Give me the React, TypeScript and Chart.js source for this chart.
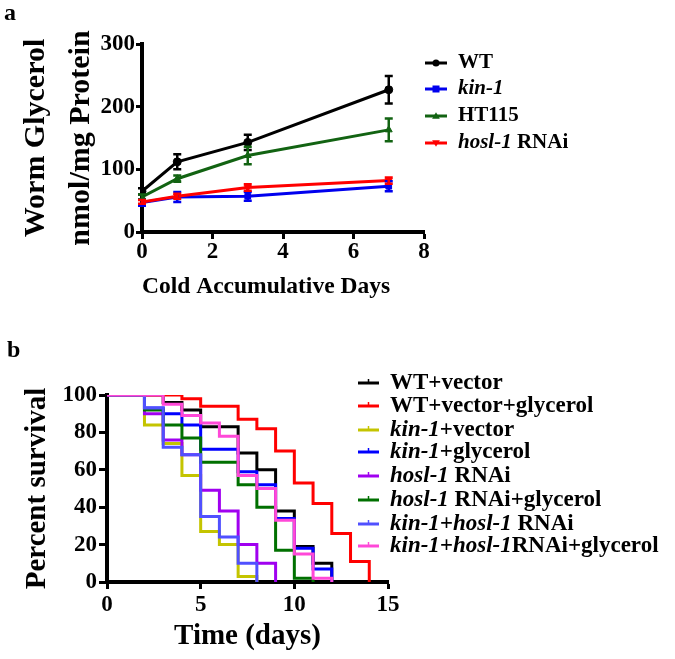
import React, { useEffect, useRef } from "react";
import { Chart, registerables } from "chart.js";
Chart.register(...registerables);

const SERIF = '"Liberation Serif", "Times New Roman", Times, serif';

// ---------- Panel a data ----------
const daysA = [0, 1, 3, 7];
const wtMean = [65, 112, 143, 227];
const wtErr = [5, 12, 12, 22];
const kinMean = [47, 56, 57, 73];
const kinErr = [5, 8, 7, 8];
const ht115Mean = [56, 85, 122, 163];
const ht115Err = [4, 5, 14, 18];
const hoslMean = [48, 57, 71, 82];
const hoslErr = [3, 4, 5, 5];
const xTicksA = [0, 2, 4, 6, 8];
const yTicksA = [0, 100, 200, 300];

type Part = { t: string; i?: boolean };

const seriesA = [
  { name: [{ t: "WT" }] as Part[], color: "#000000", style: "circle", rot: 0, mean: wtMean, err: wtErr },
  { name: [{ t: "kin-1", i: true }] as Part[], color: "#0000ee", style: "rect", rot: 0, mean: kinMean, err: kinErr },
  { name: [{ t: "HT115" }] as Part[], color: "#126312", style: "triangle", rot: 0, mean: ht115Mean, err: ht115Err },
  { name: [{ t: "hosl-1", i: true }, { t: " RNAi" }] as Part[], color: "#ff0000", style: "triangle", rot: 180, mean: hoslMean, err: hoslErr },
];

// ---------- Panel b data ----------
const wtVecT = [0, 3, 4, 5, 7, 8, 9, 10, 11, 12];
const wtVecS = [100, 96, 92, 83, 69, 60, 38, 19, 10, 0];
const wtGlyT = [0, 4, 5, 7, 8, 9, 10, 11, 12, 13, 14];
const wtGlyS = [100, 98, 94, 87, 82, 70, 53, 42, 26, 11, 0];
const kinVecT = [0, 2, 3, 4, 5, 6, 7, 8];
const kinVecS = [100, 84, 74, 57, 27, 20, 3, 0];
const kinGlyT = [0, 2, 3, 4, 5, 7, 8, 9, 10, 11, 12];
const kinGlyS = [100, 93, 90, 84, 71, 59, 52, 34, 18, 7, 0];
const hoslT = [0, 2, 3, 4, 5, 6, 7, 8, 9];
const hoslS = [100, 90, 76, 68, 49, 38, 20, 10, 0];
const hoslGlyT = [0, 2, 3, 4, 5, 7, 8, 9, 10, 11];
const hoslGlyS = [100, 92, 84, 77, 64, 52, 40, 17, 2, 0];
const kinHoslT = [0, 2, 3, 4, 5, 6, 7, 8];
const kinHoslS = [100, 93, 72, 68, 35, 24, 10, 0];
const kinHoslGlyT = [0, 3, 4, 5, 6, 7, 8, 9, 10, 11, 12];
const kinHoslGlyS = [100, 95, 89, 85, 78, 57, 50, 33, 15, 2, 0];
const xTicksB = [0, 5, 10, 15];
const yTicksB = [0, 20, 40, 60, 80, 100];

const seriesB = [
  { name: [{ t: "WT+vector" }] as Part[], color: "#000000", t: wtVecT, s: wtVecS },
  { name: [{ t: "WT+vector+glycerol" }] as Part[], color: "#ff0000", t: wtGlyT, s: wtGlyS },
  { name: [{ t: "kin-1", i: true }, { t: "+vector" }] as Part[], color: "#c4c400", t: kinVecT, s: kinVecS },
  { name: [{ t: "kin-1", i: true }, { t: "+glycerol" }] as Part[], color: "#0000ff", t: kinGlyT, s: kinGlyS },
  { name: [{ t: "hosl-1", i: true }, { t: " RNAi" }] as Part[], color: "#a000f0", t: hoslT, s: hoslS },
  { name: [{ t: "hosl-1", i: true }, { t: " RNAi+glycerol" }] as Part[], color: "#007000", t: hoslGlyT, s: hoslGlyS },
  { name: [{ t: "kin-1+hosl-1", i: true }, { t: " RNAi" }] as Part[], color: "#5050ff", t: kinHoslT, s: kinHoslS },
  { name: [{ t: "kin-1+hosl-1", i: true }, { t: "RNAi+glycerol" }] as Part[], color: "#ff48d8", t: kinHoslGlyT, s: kinHoslGlyS },
];

function drawParts(ctx: CanvasRenderingContext2D, parts: Part[], x: number, y: number, size: number) {
  let cx = x;
  ctx.fillStyle = "#000";
  ctx.textBaseline = "middle";
  ctx.textAlign = "left";
  for (const p of parts) {
    ctx.font = `${p.i ? "italic " : ""}bold ${size}px ${SERIF}`;
    ctx.fillText(p.t, cx, y);
    cx += ctx.measureText(p.t).width;
  }
}

function drawMarker(ctx: CanvasRenderingContext2D, style: string, rot: number, x: number, y: number, r: number, color: string) {
  ctx.fillStyle = color;
  ctx.beginPath();
  if (style === "circle") {
    ctx.arc(x, y, r, 0, Math.PI * 2);
  } else if (style === "rect") {
    ctx.rect(x - r, y - r, 2 * r, 2 * r);
  } else {
    const d = rot === 180 ? -1 : 1;
    ctx.moveTo(x, y - d * r * 1.1);
    ctx.lineTo(x - r * 1.1, y + d * r * 0.8);
    ctx.lineTo(x + r * 1.1, y + d * r * 0.8);
    ctx.closePath();
  }
  ctx.fill();
}

const axisCommon = (tickLen: number, size: number, pad: number) => ({
  grid: { drawOnChartArea: false, drawTicks: true, tickLength: tickLen, tickWidth: 3, tickColor: "#000", color: "#000" },
  border: { display: true, width: 4, color: "#000" },
  ticks: { color: "#000", padding: pad, font: { family: SERIF, size, weight: "bold" as const } },
});

function PanelA() {
  const ref = useRef<HTMLCanvasElement>(null);
  useEffect(() => {
    if (!ref.current) return;
    const errBars = {
      id: "errBarsA",
      afterDatasetsDraw(chart: any) {
        const { ctx } = chart;
        const x = chart.scales.x;
        const y = chart.scales.y;
        ctx.save();
        seriesA.forEach((s) => {
          ctx.strokeStyle = s.color;
          ctx.lineWidth = 2.5;
          daysA.forEach((d, j) => {
            const px = x.getPixelForValue(d);
            const top = y.getPixelForValue(s.mean[j] + s.err[j]);
            const bot = y.getPixelForValue(s.mean[j] - s.err[j]);
            ctx.beginPath();
            ctx.moveTo(px, top);
            ctx.lineTo(px, bot);
            ctx.moveTo(px - 4, top);
            ctx.lineTo(px + 4, top);
            ctx.moveTo(px - 4, bot);
            ctx.lineTo(px + 4, bot);
            ctx.stroke();
          });
        });
        ctx.restore();
      },
    };
    const legendA = {
      id: "legendA",
      afterDraw(chart: any) {
        const { ctx } = chart;
        ctx.save();
        const rows = [63, 89, 116, 143];
        seriesA.forEach((s, k) => {
          const y = rows[k];
          ctx.strokeStyle = s.color;
          ctx.lineWidth = 3;
          ctx.beginPath();
          ctx.moveTo(425, y);
          ctx.lineTo(447, y);
          ctx.stroke();
          drawMarker(ctx, s.style, s.rot, 436, y, 3.5, s.color);
          drawParts(ctx, s.name, 458, y, 21);
        });
        ctx.font = `bold 24px ${SERIF}`;
        ctx.textBaseline = "alphabetic";
        ctx.fillStyle = "#000";
        ctx.fillText("a", 4, 20);
        ctx.restore();
      },
    };
    const chart = new Chart(ref.current, {
      type: "line",
      data: {
        datasets: seriesA.map((s, k) => ({
          label: s.name.map((p) => p.t).join(""),
          data: daysA.map((d, j) => ({ x: d, y: s.mean[j] })),
          borderColor: s.color,
          backgroundColor: s.color,
          borderWidth: 3,
          pointStyle: s.style as any,
          pointRotation: s.rot,
          pointRadius: 4,
          pointBorderWidth: 1,
          order: seriesA.length - k,
        })),
      },
      options: {
        animation: false,
        responsive: false,
        devicePixelRatio: 1,
        layout: { padding: { left: 0, right: 251, top: 44, bottom: 8 } },
        plugins: { legend: { display: false }, tooltip: { enabled: false } },
        scales: {
          x: {
            type: "linear",
            min: 0,
            max: 8,
            afterBuildTicks: (s: any) => { s.ticks = xTicksA.map((v) => ({ value: v })); },
            afterFit: (s: any) => { s.height = 70; },
            ...axisCommon(7, 23, -1),
            title: {
              display: true,
              text: "Cold Accumulative Days",
              align: "start",
              color: "#000",
              padding: { top: 0, bottom: 1 },
              font: { family: SERIF, size: 23.5, weight: "bold" },
            },
          },
          y: {
            type: "linear",
            min: 0,
            max: 300,
            afterBuildTicks: (s: any) => { s.ticks = yTicksA.map((v) => ({ value: v })); },
            afterFit: (s: any) => { s.width = 142; },
            ...axisCommon(6, 23, 1),
            title: {
              display: true,
              text: ["Worm Glycerol", "nmol/mg Protein"],
              color: "#000",
              padding: { top: 14, bottom: 0 },
              font: { family: SERIF, size: 30, weight: "bold", lineHeight: 1.5 },
            },
          },
        },
      } as any,
      plugins: [errBars, legendA],
    });
    return () => chart.destroy();
  }, []);
  return (
    <canvas
      ref={ref}
      width={675}
      height={310}
      style={{ position: "absolute", left: 0, top: 0, width: 675, height: 310 }}
    />
  );
}

function PanelB() {
  const ref = useRef<HTMLCanvasElement>(null);
  useEffect(() => {
    if (!ref.current) return;
    const legendB = {
      id: "legendB",
      afterDraw(chart: any) {
        const { ctx } = chart;
        ctx.save();
        const rows = [53, 76, 100, 122, 146, 170, 194, 216];
        seriesB.forEach((s, k) => {
          const y = rows[k];
          ctx.strokeStyle = s.color;
          ctx.lineWidth = 3;
          ctx.beginPath();
          ctx.moveTo(358, y);
          ctx.lineTo(379, y);
          ctx.stroke();
          ctx.lineWidth = 1.5;
          ctx.beginPath();
          ctx.moveTo(368.5, y);
          ctx.lineTo(368.5, y - 4);
          ctx.stroke();
          drawParts(ctx, s.name, 390, y, 23);
        });
        ctx.font = `bold 24px ${SERIF}`;
        ctx.textBaseline = "alphabetic";
        ctx.fillStyle = "#000";
        ctx.fillText("b", 7, 27);
        ctx.restore();
      },
    };
    const chart = new Chart(ref.current, {
      type: "line",
      data: {
        datasets: seriesB.map((s, k) => ({
          label: s.name.map((p) => p.t).join(""),
          data: s.t.map((t, j) => ({ x: t, y: s.s[j] })),
          borderColor: s.color,
          backgroundColor: s.color,
          borderWidth: 3,
          stepped: "before",
          pointRadius: 0,
          fill: false,
          order: seriesB.length - k,
        })),
      },
      options: {
        animation: false,
        responsive: false,
        devicePixelRatio: 1,
        layout: { padding: { left: 0, right: 287, top: 65, bottom: 3 } },
        plugins: { legend: { display: false }, tooltip: { enabled: false } },
        scales: {
          x: {
            type: "linear",
            min: 0,
            max: 15,
            afterBuildTicks: (s: any) => { s.ticks = xTicksB.map((v) => ({ value: v })); },
            afterFit: (s: any) => { s.height = 74; },
            ...axisCommon(7, 23, 2),
            title: {
              display: true,
              text: "Time (days)",
              color: "#000",
              padding: { top: 0, bottom: 2 },
              font: { family: SERIF, size: 29, weight: "bold" },
            },
          },
          y: {
            type: "linear",
            min: 0,
            max: 100,
            afterBuildTicks: (s: any) => { s.ticks = yTicksB.map((v) => ({ value: v })); },
            afterFit: (s: any) => { s.width = 107; },
            ...axisCommon(8, 23, 2),
            title: {
              display: true,
              text: "Percent survival",
              color: "#000",
              padding: { top: 20, bottom: 0 },
              font: { family: SERIF, size: 29, weight: "bold" },
            },
          },
        },
      } as any,
      plugins: [legendB],
    });
    return () => chart.destroy();
  }, []);
  return (
    <canvas
      ref={ref}
      width={675}
      height={329}
      style={{ position: "absolute", left: 0, top: 330, width: 675, height: 329 }}
    />
  );
}

export default function App() {
  return (
    <div style={{ position: "absolute", left: 0, top: 0, width: 675, height: 659, background: "#fff", overflow: "hidden" }}>
      <PanelA />
      <PanelB />
    </div>
  );
}
